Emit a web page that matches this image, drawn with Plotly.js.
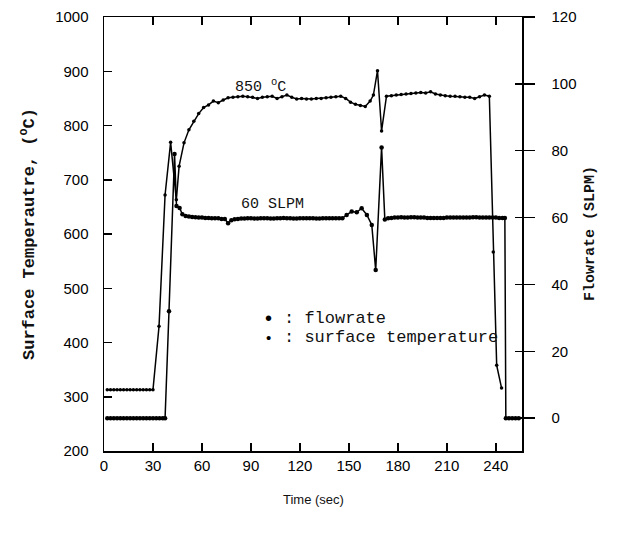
<!DOCTYPE html>
<html>
<head>
<meta charset="utf-8">
<script src="https://cdn.plot.ly/plotly-3.0.1.min.js"></script>
<style>
  html, body { margin: 0; padding: 0; background: #fff; }
  #chart { width: 620px; height: 544px; }
</style>
</head>
<body>
<div id="chart"></div>
<script>
// Surface temperature (left axis, °C)
const tempTime = [2,4,6,8,10,12,14,16,18,20,22,24,26,28,30,33.7,37.4,40.8,44.3,46,49,52,55,58,61,64,67,70,73,76,79,82,85,88,91,94,97,100,103,106,109,112,115,118,121,124,127,130,133,136,139,142,145,148,151,154,157,160,163,165,167.5,170,173,176,179,182,185,188,191,194,197,200,203,206,209,212,215,218,221,224,227,230,233,236,238.4,240.5,243.5];
const tempValue = [313,313,313,313,313,313,313,313,313,313,313,313,313,313,313,430,672,769,663,725,768,792,808,822,833,838,845,842,847,851,852,853,854,853,852,850,852,853,854,850,853,856,852,849,850,849,849,850,850,851,852,853,854,850,843,839,837,835,845,856,901,790,854,855,856,857,858,859,860,861,860,862,858,856,855,854,854,853,852,852,850,853,856,854,567,358,316];

// Flowrate (right axis, SLPM)
const flowTime = [2,4,6,8,10,12,14,16,18,20,22,24,26,28,30,32,34,36,37.4,39.8,43.2,44.4,46.3,48,50,52,54,56,58,60,62,64,66,68,70,72,74,76,78,80,82,84,86,88,90,92,94,96,98,100,102,104,106,108,110,112,114,116,118,120,122,124,126,128,130,132,134,136,138,140,142,144,146,148.6,151.7,154.8,157.8,161,164,166.4,170,172,174,176,178,180,182,184,186,188,190,192,194,196,198,200,202,204,206,208,210,212,214,216,218,220,222,224,226,228,230,232,234,236,238,240,242,244,245.5,246.1,248,250,252,254];
const flowValue = [0,0,0,0,0,0,0,0,0,0,0,0,0,0,0,0,0,0,0,32,79,63.5,62.9,61,60.5,60.3,60.2,60.1,60,60,59.9,59.9,59.8,59.8,59.8,59.6,59.6,58.3,59.2,59.5,59.6,59.7,59.7,59.8,59.8,59.7,59.7,59.8,59.8,59.8,59.7,59.7,59.8,59.8,59.9,59.8,59.8,59.7,59.7,59.8,59.8,59.8,59.8,59.8,59.7,59.7,59.8,59.8,59.8,59.8,59.8,59.8,59.8,60.8,61.8,61.6,62.8,60.8,57.8,44.3,81,59.4,59.8,59.9,60,60,60.1,60,60,60.1,60.1,60,60,60,59.9,59.9,59.9,59.9,59.9,59.9,60,60,60,60,60,60,60,60,60.1,60.1,60,60,60,60,60,60,59.9,59.9,59.9,0,0,0,0,0];

const xTicks = [0,30,60,90,120,150,180,210,240];
const yTicks = [200,300,400,500,600,700,800,900,1000];
const y2Ticks = [0,20,40,60,80,100,120];

const legendLabels = [': flowrate', ': surface temperature'];

const tickFont = {family: 'Liberation Sans, Arial, sans-serif', size: 15, color: '#000'};
const mono = 'Liberation Mono, Courier New, monospace';

const traces = [
  {
    x: flowTime, y: flowValue, yaxis: 'y2', name: legendLabels[0], showlegend: false,
    type: 'scatter', mode: 'lines+markers',
    line: {color: '#000', width: 1.5},
    marker: {color: '#000', size: 4.5, symbol: 'circle'}
  },
  {
    x: tempTime, y: tempValue, yaxis: 'y', name: legendLabels[1], showlegend: false,
    type: 'scatter', mode: 'lines+markers',
    line: {color: '#000', width: 1.5},
    marker: {color: '#000', size: 3.5, symbol: 'circle'}
  },
  {x: [], y: [], yaxis: 'y3', showlegend: false, hoverinfo: 'skip', type: 'scatter'}
];

function px2paperX(px) { return (px - 104) / 418; }
function px2paperY(py) { return (451 - py) / 434; }

const legendRows = [318, 337.5];
const bulletSizes = [20, 15];
const legendAnnots = [];
legendLabels.forEach((lab, i) => {
  legendAnnots.push({text: '•', xref: 'paper', yref: 'paper',
    x: px2paperX(268), y: px2paperY(legendRows[i]), xanchor: 'center', yanchor: 'middle',
    showarrow: false, font: {family: 'Liberation Sans, Arial, sans-serif', size: bulletSizes[i], color: '#000'}});
  legendAnnots.push({text: lab, xref: 'paper', yref: 'paper',
    x: px2paperX(282), y: px2paperY(legendRows[i]), xanchor: 'left', yanchor: 'middle',
    showarrow: false, font: {family: mono, size: 17, color: '#111'}});
});

const layout = {
  width: 620, height: 544,
  margin: {l: 104, r: 98, t: 17, b: 93},
  paper_bgcolor: '#fff', plot_bgcolor: '#fff',
  showlegend: false,
  xaxis: {
    range: [0, 256], tickvals: xTicks, ticktext: xTicks.map(String),
    ticks: 'inside', ticklen: 8, tickwidth: 1.5, tickcolor: '#000',
    showline: true, linecolor: '#000', linewidth: 1.5, mirror: 'ticks',
    showgrid: false, zeroline: false, tickfont: tickFont
  },
  yaxis: {
    range: [200, 1000], tickvals: yTicks, ticktext: yTicks.map(String),
    ticks: 'inside', ticklen: 8, tickwidth: 1.5, tickcolor: '#000',
    showline: true, linecolor: '#000', linewidth: 1.5, mirror: false,
    showgrid: false, zeroline: false, tickfont: tickFont, ticklabelstandoff: 11
  },
  yaxis2: {
    overlaying: 'y', side: 'right', range: [-9.8, 120],
    tickvals: y2Ticks, ticktext: y2Ticks.map(String),
    ticks: 'outside', ticklen: 11, tickwidth: 1.5, tickcolor: '#000',
    showline: true, linecolor: '#000', linewidth: 1.5,
    showgrid: false, zeroline: false, tickfont: tickFont, ticklabelstandoff: 14
  },
  yaxis3: {
    overlaying: 'y', side: 'right', range: [-9.8, 120],
    tickvals: y2Ticks, showticklabels: false,
    ticks: 'inside', ticklen: 7, tickwidth: 1.5, tickcolor: '#000',
    showline: false, showgrid: false, zeroline: false
  },
  annotations: [
    {text: 'Surface Temperautre, (<sup>o</sup>C)', xref: 'paper', yref: 'paper',
     x: px2paperX(28), y: 0.5, xanchor: 'center', yanchor: 'middle', textangle: -90, showarrow: false,
     font: {family: mono, size: 17, color: '#111', weight: 'bold'}},
    {text: 'Flowrate (SLPM)', xref: 'paper', yref: 'paper',
     x: px2paperX(590), y: 0.5, xanchor: 'center', yanchor: 'middle', textangle: -90, showarrow: false,
     font: {family: mono, size: 15, color: '#111', weight: 'bold'}},
    {text: 'Time (sec)', xref: 'paper', yref: 'paper',
     x: 0.5, y: px2paperY(500), xanchor: 'center', yanchor: 'middle', showarrow: false,
     font: {family: 'Liberation Sans, Arial, sans-serif', size: 13, color: '#111'}},
    {text: '850 <sup>o</sup>C', xref: 'x', yref: 'y', x: 96, y: 873,
     xanchor: 'center', yanchor: 'middle', showarrow: false,
     font: {family: mono, size: 15, color: '#111'}},
    {text: '60 SLPM', xref: 'x', yref: 'y', x: 103, y: 655,
     xanchor: 'center', yanchor: 'middle', showarrow: false,
     font: {family: mono, size: 15, color: '#111'}}
  ].concat(legendAnnots)
};

Plotly.newPlot('chart', traces, layout, {displayModeBar: false, staticPlot: true});
</script>
</body>
</html>
